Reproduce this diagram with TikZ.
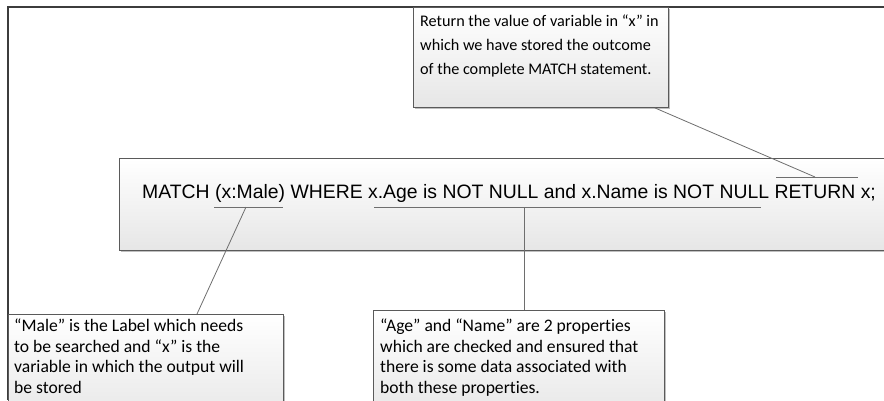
\documentclass[tikz,border=0pt]{standalone}
\usepackage{fontspec}
\setmainfont{Carlito}[Ligatures=NoCommon]
\newfontfamily\codefont{Liberation Sans}
\usetikzlibrary{shadows,calc}

\definecolor{framecol}{HTML}{3C3C3C}
\definecolor{edgecol}{HTML}{5A5A5A}
\definecolor{linkcol}{HTML}{6E6E6E}
\definecolor{shadecol}{HTML}{E6E6E6}

\tikzset{
  callout/.style={draw=edgecol, line width=0.9pt, top color=white, bottom color=shadecol,
    drop shadow={shadow xshift=2pt, shadow yshift=-2pt, fill=black, opacity=0.25},
    anchor=north west, inner sep=0pt},
  note/.style={anchor=north west, align=left, inner sep=0pt,
    font=\fontsize{17.6pt}{20.5pt}\selectfont, text=black},
  link/.style={draw=linkcol, line width=0.8pt},
}

\begin{document}
\begin{tikzpicture}[x=1pt, y=-1pt]
\useasboundingbox (0,0) rectangle (884,400);

% outer frame (top and left edges)
\draw[framecol, line width=1.3pt] (884,7) -- (8,7) -- (8,400);

% boxes
\node[callout, minimum width=255pt, minimum height=100pt] (retbox) at (413,7) {};
\node[callout, minimum width=800pt, minimum height=92pt] (query) at (119,158) {};
\node[callout, minimum width=275pt, minimum height=110pt] (malebox) at (8,314) {};
\node[callout, minimum width=291pt, minimum height=110pt] (propbox) at (373,310) {};

% texts
\node[note, font=\fontsize{16.2pt}{24pt}\selectfont] (rettext) at (420,15) {Return the value of variable in “x” in\\
which we have stored the outcome\\of the complete MATCH statement.};
\node[anchor=base west, inner sep=0pt, font=\codefont\fontsize{19.4pt}{23pt}\selectfont] (qtext) at (142,198)
  {MATCH (x:Male) WHERE x.Age is NOT NULL and x.Name is NOT NULL RETURN x;};
\node[note] (maletext) at (14,319) {“Male” is the Label which needs\\
to be searched and “x” is the\\variable in which the output will\\be stored};
\node[note] (proptext) at (380,319) {“Age” and “Name” are 2 properties\\
which are checked and ensured that\\there is some data associated with\\both these properties.};

% underlines inside the query box
\coordinate (retA) at (776,177);
\coordinate (retB) at (858,177);
\coordinate (retM) at (815,177);
\coordinate (maleA) at (214,207);
\coordinate (maleB) at (283,207);
\coordinate (maleM) at (246,207);
\coordinate (propA) at (374,207);
\coordinate (propB) at (761,207);
\coordinate (propM) at (524,207);
\draw[link] (retA) -- (retB);
\draw[link] (maleA) -- (maleB);
\draw[link] (propA) -- (propB);

% leader lines to the callouts
\draw[link] ($(retbox.south east)+(-14,0)$) -- (retM);
\draw[link] (maleM) -- ($(malebox.north west)+(189,0)$);
\draw[link] (propM) -- (propM |- propbox.north);
\end{tikzpicture}
\end{document}
